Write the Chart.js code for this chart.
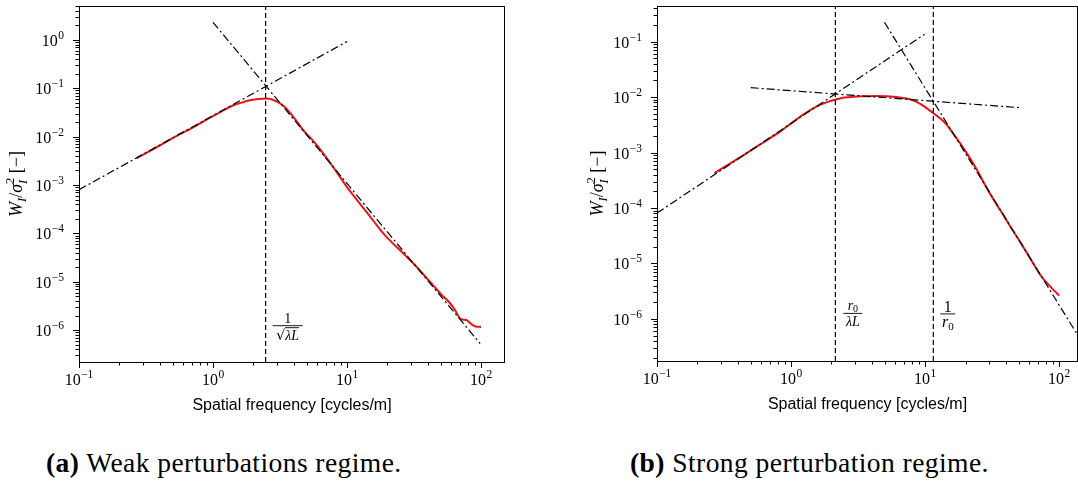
<!DOCTYPE html>
<html>
<head>
<meta charset="utf-8">
<script src="https://cdn.jsdelivr.net/npm/chart.js@4.4.1/dist/chart.umd.min.js"></script>
<style>
html, body { margin: 0; padding: 0; background: #fff; }
body { width: 1078px; height: 484px; position: relative; overflow: hidden; }
#weak { position: absolute; left: 0; top: 0; }
#strong { position: absolute; left: 540px; top: 0; }
.caption { position: absolute; top: 448px; font-family: "Liberation Serif", serif; font-size: 26.5px; letter-spacing: 0.4px;
  transform: scaleX(1.04); transform-origin: left top; color: #000; white-space: nowrap; }
</style>
</head>
<body>
<canvas id="weak" width="540" height="425"></canvas>
<canvas id="strong" width="538" height="425"></canvas>
<div class="caption" style="left:46px"><b>(a)</b> Weak perturbations regime.</div>
<div class="caption" style="left:630px"><b>(b)</b> Strong perturbation regime.</div>
<script>
// weak perturbations: normalised spectrum W_I / sigma_I^2
var weakFreq = [0.27, 0.35, 0.5, 0.7, 0.9, 1.15, 1.41, 1.7, 1.89, 2.2, 2.49, 2.75, 3.01, 3.4, 3.76,
  4.2, 4.7, 5.3, 5.97, 6.9, 7.87, 8.9, 10, 12.1, 14.1, 16.2, 18.6, 21.5, 24.9, 28.8, 33.3, 38.2,
  43.8, 50.5, 58.7, 64, 69.7, 74, 78.7, 83, 87.1, 93, 100];
var weakPower = [3.6e-3, 5.3e-3, 9.3e-3, 0.0152, 0.0226, 0.033, 0.044, 0.052, 0.0563, 0.0600, 0.061,
  0.0585, 0.0528, 0.042, 0.0308, 0.021, 0.0137, 9.6e-3, 6.6e-3, 3.9e-3, 2.35e-3, 1.44e-3, 9.06e-4,
  4.6e-4, 2.69e-4, 1.64e-4, 1.01e-4, 6.6e-5, 4.49e-5, 3.0e-5, 2.0e-5, 1.3e-5, 8.5e-6, 5.5e-6,
  3.6e-6, 2.6e-6, 1.75e-6, 1.65e-6, 1.6e-6, 1.4e-6, 1.26e-6, 1.18e-6, 1.17e-6];
var weakLowX = [0.1, 10], weakLowY = [8.0e-4, 0.92];
var weakHighX = [1.0, 98.5], weakHighY = [2.3, 5.3e-7];
var weakCutoff = 2.47;

// strong perturbations
var strongFreq = [0.268, 0.35, 0.467, 0.62, 0.828, 1.0, 1.17, 1.4, 1.64, 1.9, 2.19, 2.5, 2.92, 3.5,
  4.36, 5.0, 5.8, 6.7, 7.73, 8.7, 9.71, 11.5, 13, 14.5, 16.2, 18.2, 21, 24.3, 28, 32.4, 37.5, 43.1,
  50, 57.4, 64, 72.1, 78, 85.7, 92, 100];
var strongPower = [4.26e-4, 6.3e-4, 9.75e-4, 1.52e-3, 2.39e-3, 3.36e-3, 4.45e-3, 5.9e-3, 7.23e-3,
  8.3e-3, 9.16e-3, 9.8e-3, 0.0102, 0.0104, 0.0105, 0.0104, 0.0102, 9.7e-3, 9.16e-3, 8.1e-3, 6.93e-3,
  5.12e-3, 4.1e-3, 3.16e-3, 2.2e-3, 1.48e-3, 8.8e-4, 4.88e-4, 2.6e-4, 1.41e-4, 8.1e-5, 4.65e-5,
  2.65e-5, 1.54e-5, 1.0e-5, 6.25e-6, 4.9e-6, 3.85e-6, 3.2e-6, 2.65e-6];
var strongLowX = [0.1, 9.9], strongLowY = [8.1e-5, 0.136];
var strongMidX = [0.5, 50], strongMidY = [0.0148, 6.47e-3];
var strongHighX = [4.97, 138], strongHighY = [0.224, 5.0e-7];
var strongCutoffs = [2.14, 11.5];

// decade tick labels (exponents of ten)
var weakXExps = [-1, 0, 1, 2];
var weakYExps = [0, -1, -2, -3, -4, -5, -6];
var strongXExps = [-1, 0, 1, 2];
var strongYExps = [-1, -2, -3, -4, -5, -6];

var SERIF = '"Liberation Serif", serif';

function zip(xs, ys) {
  return xs.map(function (x, i) { return { x: x, y: ys[i] }; });
}

function curve(xs, ys) {
  return { data: zip(xs, ys), borderColor: '#e8161b', borderWidth: 2, cubicInterpolationMode: 'monotone', clip: 0 };
}
function dashDot(xs, ys) {
  return { data: zip(xs, ys), borderColor: '#000', borderWidth: 1.2, borderDash: [8, 3, 2, 3], clip: 0 };
}
function vline(x, lo, hi) {
  return { data: [{ x: x, y: lo }, { x: x, y: hi }], borderColor: '#000', borderWidth: 1.2, borderDash: [5, 3], clip: 0 };
}

function logTicks(min, max) {
  var out = [];
  for (var k = Math.floor(Math.log10(min)); k <= Math.ceil(Math.log10(max)); k++) {
    for (var m = 1; m <= 9; m++) {
      var v = m * Math.pow(10, k);
      if (v >= min * 0.9999 && v <= max * 1.0001) out.push({ v: v, major: m === 1 });
    }
  }
  return out;
}

// "10" with a raised exponent
function powLabel(ctx, exp, x, y, align) {
  var sup = exp < 0 ? '\u2212' + (-exp) : String(exp);
  ctx.font = '16px ' + SERIF;
  var wb = ctx.measureText('10').width;
  ctx.font = '11.5px ' + SERIF;
  var ws = ctx.measureText(sup).width;
  var w = wb + 0.5 + ws;
  var x0 = align === 'right' ? x - w : x - w / 2;
  ctx.font = '16px ' + SERIF;
  ctx.fillText('10', x0, y);
  ctx.font = '11.5px ' + SERIF;
  ctx.fillText(sup, x0 + wb + 0.5, y - 7);
}

// rich text runs: {t, f, dy, over, stack}
function runsWidth(ctx, runs) {
  var w = 0;
  runs.forEach(function (r) {
    ctx.font = r.f;
    var rw = ctx.measureText(r.t).width;
    if (r.stack) { ctx.font = r.stack.f; rw = Math.max(rw, ctx.measureText(r.stack.t).width); }
    w += rw;
  });
  return w;
}
function drawRuns(ctx, runs, x, y) {
  runs.forEach(function (r) {
    ctx.font = r.f;
    var rw = ctx.measureText(r.t).width;
    ctx.fillText(r.t, x, y + (r.dy || 0));
    if (r.over) {
      ctx.beginPath(); ctx.lineWidth = 0.9;
      ctx.moveTo(x, y - 12); ctx.lineTo(x + rw, y - 12); ctx.stroke();
    }
    if (r.stack) {
      ctx.font = r.stack.f;
      ctx.fillText(r.stack.t, x, y + r.stack.dy);
      rw = Math.max(rw, ctx.measureText(r.stack.t).width);
    }
    x += rw;
  });
}
function fraction(ctx, x0, yBar, w, num, numDy, den, denDy) {
  ctx.beginPath(); ctx.lineWidth = 0.9;
  ctx.moveTo(x0, yBar); ctx.lineTo(x0 + w, yBar); ctx.stroke();
  drawRuns(ctx, num, x0 + (w - runsWidth(ctx, num)) / 2, yBar + numDy);
  drawRuns(ctx, den, x0 + (w - runsWidth(ctx, den)) / 2, yBar + denDy);
}

var yTitleRuns = [
  { t: 'W', f: 'italic 18px ' + SERIF },
  { t: 'I', f: 'italic 12.5px ' + SERIF, dy: 3.5 },
  { t: '/', f: '18px ' + SERIF },
  { t: '\u03c3', f: 'italic 18px ' + SERIF },
  { t: '2', f: '12.5px ' + SERIF, dy: -8, stack: { t: 'I', f: 'italic 12.5px ' + SERIF, dy: 4.5 } },
  { t: ' [\u2212]', f: '18px ' + SERIF }
];

function axesFrame(xExps, yExps, yTitleGap, notes) {
  return {
    id: 'axesFrame',
    afterDatasetsDraw: function (chart) {
      var ctx = chart.ctx, a = chart.chartArea, xs = chart.scales.x, ys = chart.scales.y;
      ctx.save();
      ctx.strokeStyle = '#000'; ctx.fillStyle = '#000'; ctx.lineWidth = 1;
      ctx.textBaseline = 'alphabetic'; ctx.textAlign = 'left';
      ctx.strokeRect(a.left + 0.5, a.top + 0.5, a.right - a.left - 1, a.bottom - a.top);
      logTicks(xs.min, xs.max).forEach(function (t) {
        var px = Math.round(xs.getPixelForValue(t.v)) + 0.5;
        ctx.beginPath(); ctx.moveTo(px, a.bottom); ctx.lineTo(px, a.bottom + (t.major ? 6 : 3.5)); ctx.stroke();
      });
      logTicks(ys.min, ys.max).forEach(function (t) {
        var py = Math.round(ys.getPixelForValue(t.v)) + 0.5;
        ctx.beginPath(); ctx.moveTo(a.left, py); ctx.lineTo(a.left - (t.major ? 6 : 3.5), py); ctx.stroke();
      });
      xExps.forEach(function (e) {
        powLabel(ctx, e, xs.getPixelForValue(Math.pow(10, e)), a.bottom + 23, 'center');
      });
      yExps.forEach(function (e) {
        powLabel(ctx, e, a.left - 15, ys.getPixelForValue(Math.pow(10, e)) + 6, 'right');
      });
      // axis titles
      ctx.font = '16px "Liberation Sans", sans-serif';
      ctx.textAlign = 'center';
      ctx.fillText('Spatial frequency [cycles/m]', (a.left + a.right) / 2, a.bottom + 48);
      ctx.textAlign = 'left';
      ctx.save();
      ctx.translate(a.left - yTitleGap, (a.top + a.bottom) / 2);
      ctx.rotate(-Math.PI / 2);
      drawRuns(ctx, yTitleRuns, -runsWidth(ctx, yTitleRuns) / 2, 0);
      ctx.restore();
      notes.forEach(function (n) {
        var x0 = xs.getPixelForValue(n.x) + n.dx;
        var yb = ys.getPixelForValue(n.y) + n.dy;
        fraction(ctx, x0, yb, n.w, n.num, n.numDy, n.den, n.denDy);
      });
      ctx.restore();
    }
  };
}

function makeChart(id, datasets, xMin, xMax, yMin, yMax, pad, xExps, yExps, yTitleGap, notes) {
  return new Chart(document.getElementById(id), {
    type: 'line',
    data: { datasets: datasets },
    options: {
      responsive: false,
      animation: false,
      devicePixelRatio: 1,
      events: [],
      layout: { padding: pad },
      elements: { point: { radius: 0 }, line: { tension: 0 } },
      plugins: { legend: { display: false }, tooltip: { enabled: false } },
      scales: {
        x: { type: 'logarithmic', min: xMin, max: xMax, display: false },
        y: { type: 'logarithmic', min: yMin, max: yMax, display: false }
      }
    },
    plugins: [axesFrame(xExps, yExps, yTitleGap, notes)]
  });
}

var wYMin = 2.2e-7, wYMax = 5.0;
makeChart('weak', [
  vline(weakCutoff, wYMin, wYMax),
  dashDot(weakLowX, weakLowY),
  dashDot(weakHighX, weakHighY),
  curve(weakFreq, weakPower)
], 0.1, 151, wYMin, wYMax, { left: 79, top: 6, right: 35, bottom: 63 }, weakXExps, weakYExps, 57, [
  { x: weakCutoff, y: 1e-6, dx: 7, dy: -4.5, w: 30,
    num: [{ t: '1', f: '14px ' + SERIF }], numDy: -3,
    den: [{ t: '\u221a', f: '14px "DejaVu Serif"' }, { t: '\u03bbL', f: 'italic 14px ' + SERIF, over: true }], denDy: 14 }
]);

var sYMin = 1.74e-7, sYMax = 0.44;
makeChart('strong', [
  vline(strongCutoffs[0], sYMin, sYMax),
  vline(strongCutoffs[1], sYMin, sYMax),
  dashDot(strongLowX, strongLowY),
  dashDot(strongMidX, strongMidY),
  dashDot(strongHighX, strongHighY),
  curve(strongFreq, strongPower)
], 0.1, 138, sYMin, sYMax, { left: 117, top: 6, right: 0, bottom: 64 }, strongXExps, strongYExps, 54, [
  { x: strongCutoffs[0], y: 1e-6, dx: 8, dy: -5.5, w: 19,
    num: [{ t: 'r', f: 'italic 14px ' + SERIF }, { t: '0', f: '10px ' + SERIF, dy: 2 }], numDy: -3,
    den: [{ t: '\u03bbL', f: 'italic 14px ' + SERIF }], denDy: 13 },
  { x: strongCutoffs[1], y: 1e-6, dx: 7, dy: -5, w: 15,
    num: [{ t: '1', f: '16px ' + SERIF }], numDy: -2,
    den: [{ t: 'r', f: 'italic 16px ' + SERIF }, { t: '0', f: '11px ' + SERIF, dy: 3 }], denDy: 13 }
]);
</script>
</body>
</html>
